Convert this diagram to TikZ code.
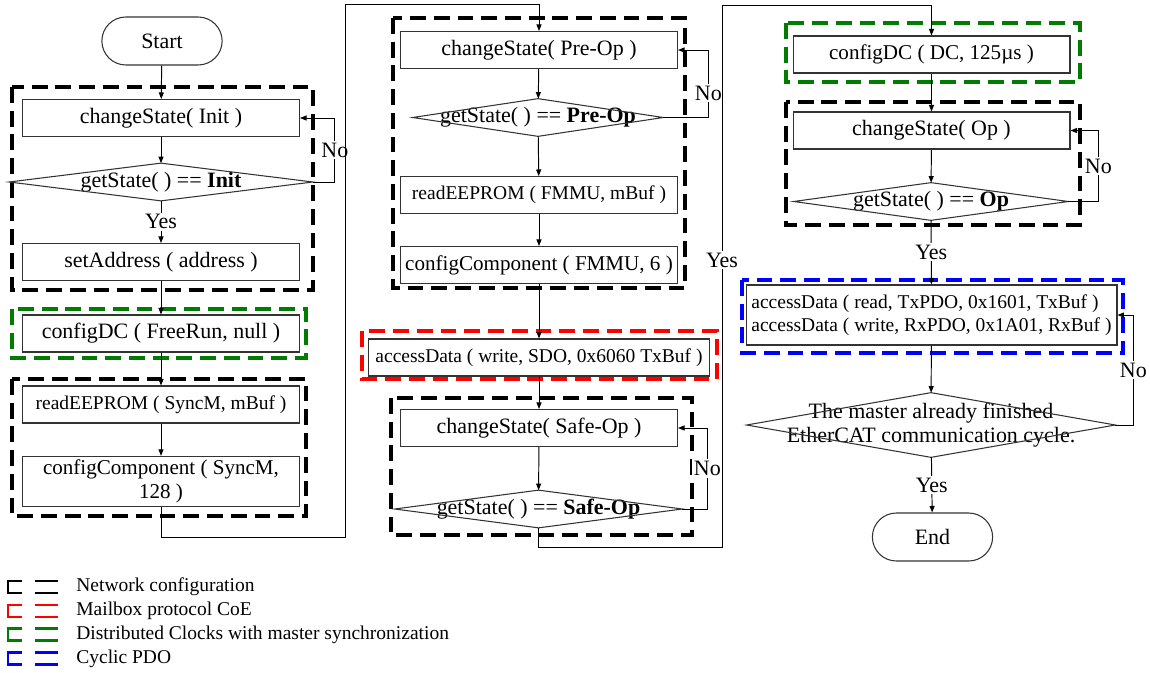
\documentclass[tikz,border=0pt]{standalone}
\usepackage{fontspec}
\setmainfont{Liberation Serif}
\usepackage{xcolor}
\usetikzlibrary{arrows.meta,positioning,calc,shapes.misc}
\definecolor{dcgreen}{RGB}{0,125,0}
\tikzset{
  box/.style={rectangle, draw=black!80, line width=0.6pt, fill=white, align=center,
              minimum width=#1, minimum height=0.74cm, inner sep=2pt},
  box/.default={5.54cm},
  term/.style={rounded rectangle, draw=black!80, line width=0.6pt, fill=white,
               minimum width=2.64cm, minimum height=0.96cm},
  decision/.style={rectangle, inner sep=0pt, align=center, minimum width=#1, minimum height=0.74cm},
  arr/.style={-{Triangle[length=1.3mm, width=1.0mm]}, line width=0.55pt, black},
  grp/.style={draw=#1, line width=1.85pt, dash pattern=on 9pt off 4.5pt},
  lbl/.style={fill=white, inner sep=1pt},
  fsmall/.style={font=\fontsize{11.1}{13}\selectfont},
  fmid/.style={font=\fontsize{12}{13.6}\selectfont},
}
\begin{document}
\begin{tikzpicture}[x=0.02cm, y=-0.02cm, font=\fontsize{12.5}{14}\selectfont]
\useasboundingbox (0,0) rectangle (1150,673);

\draw[grp=black] (12,87) rectangle (313,290);
\draw[grp=dcgreen] (12,309) rectangle (306,358);
\draw[grp=black] (12,379) rectangle (306,516);
\draw[grp=black] (393,18) rectangle (685,288);
\draw[grp=red] (362,331) rectangle (717,379);
\draw[grp=black] (391,398) rectangle (692,535);
\draw[grp=dcgreen] (786,23) rectangle (1080,82);
\draw[grp=black] (786,102) rectangle (1080,225);
\draw[grp=blue] (742,280) rectangle (1123,353);

\node[term] (start) at (162,41) {Start};
\node[box] (cs1) at (161,118) {changeState( Init )};
\node[decision=6.06cm] (gs1) at (161,182) {getState( ) == \textbf{Init}};
\node[box] (sa) at (161,262) {setAddress ( address )};
\node[box] (dc1) at (161,333.5) {configDC ( FreeRun, null )};
\node[box, fsmall] (re1) at (161,404.5) {readEEPROM ( SyncM, mBuf )};
\node[box, fmid, minimum height=0.98cm] (cc1) at (161,481.5) {configComponent ( SyncM,\\ 128 )};

\node[box] (cs2) at (539,50) {changeState( Pre-Op )};
\node[decision=5.0cm] (gs2) at (538,117.5) {getState( ) == \textbf{Pre-Op}};
\node[box, fsmall] (re2) at (539,195) {readEEPROM ( FMMU, mBuf )};
\node[box, fmid] (cc2) at (539,265) {configComponent ( FMMU, 6 )};
\node[box=6.84cm, fsmall] (ad1) at (539,357.5) {accessData ( write, SDO, 0x6060 TxBuf )};
\node[box] (cs3) at (539,428) {changeState( Safe-Op )};
\node[decision=5.74cm] (gs3) at (538.5,509) {getState( ) == \textbf{Safe-Op}};

\node[box, fmid] (dc2) at (931.5,54.5) {configDC ( DC, 125µs )};
\node[box] (cs4) at (931.5,130.5) {changeState( Op )};
\node[decision=5.48cm] (gs4) at (931,201.5) {getState( ) == \textbf{Op}};
\node[box=7.42cm, fsmall, align=left, minimum height=1.2cm] (ad2) at (931.5,315)
  {accessData ( read, TxPDO, 0x1601, TxBuf )\\accessData ( write, RxPDO, 0x1A01, RxBuf )};
\node[decision=7.36cm, minimum height=1.28cm] (gs5) at (931,425)
  {The master already finished\\EtherCAT communication cycle.};
\node[term] (end) at (932.5,537) {End};

\foreach \d in {gs1,gs2,gs3,gs4,gs5}
  \draw[line width=0.6pt, black!80] (\d.west) -- (\d.north) -- (\d.east) -- (\d.south) -- cycle;

\draw[arr] (start) -- (cs1);
\draw[arr] (cs1) -- (gs1);
\draw[arr] (gs1) -- node[lbl] {Yes} (sa);
\draw[arr] (sa) -- (dc1);
\draw[arr] (dc1) -- (re1);
\draw[arr] (re1) -- (cc1);
\draw[arr] (gs1.east) -- ++(22,0) |- node[lbl, pos=0.25] {No} (cs1.east);
\draw[arr] (cc1.south) -- ++(0,30) -| (345,4) -| (cs2.north);

\draw[arr] (cs2) -- (gs2);
\draw[arr] (gs2) -- (re2);
\draw[arr] (re2) -- (cc2);
\draw[arr] (cc2) -- (ad1);
\draw[arr] (ad1) -- (cs3);
\draw[arr] (cs3) -- (gs3);
\draw[arr] (gs2.east) -- ++(45,0) |- node[lbl, pos=0.18] {No} (cs2.east);
\draw[arr] (gs3.east) -- ++(25,0) |- node[lbl, pos=0.25] {No} (cs3.east);
\draw[arr] (gs3.south) -- ++(0,20) -| node[lbl, pos=0.765] {Yes} (722,5) -| (dc2.north);

\draw[arr] (dc2) -- (cs4);
\draw[arr] (cs4) -- (gs4);
\draw[arr] (gs4) -- node[lbl] {Yes} (ad2);
\draw[arr] (ad2) -- (gs5);
\draw[arr] (gs5) -- node[lbl] {Yes} (end);
\draw[arr] (gs4.east) -- ++(30,0) |- node[lbl, pos=0.25] {No} (cs4.east);
\draw[arr] (gs5.east) -- ++(18,0) |- node[lbl, pos=0.25] {No} (ad2.east);

\foreach \c/\t [count=\i] in {black/Network configuration, red/Mailbox protocol CoE,
    dcgreen/Distributed Clocks with master synchronization, blue/Cyclic PDO} {
  \pgfmathsetmacro{\yy}{587+(\i-1)*23.8}
  \draw[\c, line width=1.4pt] (22,\yy-6) -| (8,\yy+6) -- (22,\yy+6);
  \draw[\c, line width=1.4pt] (35,\yy-6) -- (58,\yy-6) (35,\yy+6) -- (58,\yy+6);
  \node[anchor=west, inner sep=0pt, fsmall] (lg\i) at (76,\yy) {\t};
}
\end{tikzpicture}
\end{document}
